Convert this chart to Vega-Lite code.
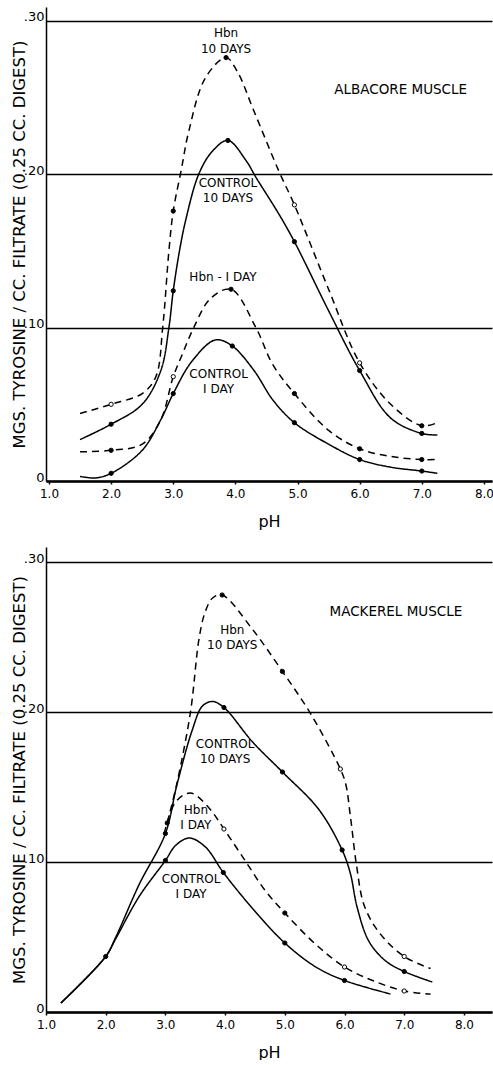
{
  "$schema": "https://vega.github.io/schema/vega-lite/v6.json",
  "padding": {"left": 10, "top": 7, "right": 0, "bottom": 0},
  "background": "white",
  "config": {
    "view": {"stroke": null},
    "font": "DejaVu Sans",
    "axis": {"labelFont": "DejaVu Sans", "titleFont": "DejaVu Sans", "labelColor": "black", "titleColor": "black", "titleFontWeight": "normal"}
  },
  "spacing": 66,
  "bounds": "flush",
  "datasets": {
    "albacore": [
      {"s": "Hbn 10 days", "ph": 1.5, "v": 0.044, "d": "dashed", "m": "none"},
      {"s": "Hbn 10 days", "ph": 2.0, "v": 0.050, "d": "dashed", "m": "open"},
      {"s": "Hbn 10 days", "ph": 2.5, "v": 0.057, "d": "dashed", "m": "none"},
      {"s": "Hbn 10 days", "ph": 2.72, "v": 0.068, "d": "dashed", "m": "none"},
      {"s": "Hbn 10 days", "ph": 2.83, "v": 0.100, "d": "dashed", "m": "none"},
      {"s": "Hbn 10 days", "ph": 2.93, "v": 0.150, "d": "dashed", "m": "none"},
      {"s": "Hbn 10 days", "ph": 3.0, "v": 0.176, "d": "dashed", "m": "filled"},
      {"s": "Hbn 10 days", "ph": 3.13, "v": 0.203, "d": "dashed", "m": "none"},
      {"s": "Hbn 10 days", "ph": 3.25, "v": 0.228, "d": "dashed", "m": "none"},
      {"s": "Hbn 10 days", "ph": 3.52, "v": 0.263, "d": "dashed", "m": "none"},
      {"s": "Hbn 10 days", "ph": 3.85, "v": 0.276, "d": "dashed", "m": "filled"},
      {"s": "Hbn 10 days", "ph": 4.03, "v": 0.267, "d": "dashed", "m": "none"},
      {"s": "Hbn 10 days", "ph": 4.3, "v": 0.241, "d": "dashed", "m": "none"},
      {"s": "Hbn 10 days", "ph": 4.7, "v": 0.202, "d": "dashed", "m": "none"},
      {"s": "Hbn 10 days", "ph": 4.95, "v": 0.180, "d": "dashed", "m": "open"},
      {"s": "Hbn 10 days", "ph": 5.5, "v": 0.125, "d": "dashed", "m": "none"},
      {"s": "Hbn 10 days", "ph": 6.0, "v": 0.077, "d": "dashed", "m": "open"},
      {"s": "Hbn 10 days", "ph": 6.5, "v": 0.050, "d": "dashed", "m": "none"},
      {"s": "Hbn 10 days", "ph": 7.0, "v": 0.036, "d": "dashed", "m": "filled"},
      {"s": "Hbn 10 days", "ph": 7.25, "v": 0.038, "d": "dashed", "m": "none"},

      {"s": "Control 10 days", "ph": 1.5, "v": 0.027, "d": "solid", "m": "none"},
      {"s": "Control 10 days", "ph": 2.0, "v": 0.037, "d": "solid", "m": "filled"},
      {"s": "Control 10 days", "ph": 2.5, "v": 0.050, "d": "solid", "m": "none"},
      {"s": "Control 10 days", "ph": 2.8, "v": 0.072, "d": "solid", "m": "none"},
      {"s": "Control 10 days", "ph": 2.93, "v": 0.100, "d": "solid", "m": "none"},
      {"s": "Control 10 days", "ph": 3.0, "v": 0.124, "d": "solid", "m": "filled"},
      {"s": "Control 10 days", "ph": 3.1, "v": 0.150, "d": "solid", "m": "none"},
      {"s": "Control 10 days", "ph": 3.2, "v": 0.170, "d": "solid", "m": "none"},
      {"s": "Control 10 days", "ph": 3.41, "v": 0.200, "d": "solid", "m": "none"},
      {"s": "Control 10 days", "ph": 3.63, "v": 0.215, "d": "solid", "m": "none"},
      {"s": "Control 10 days", "ph": 3.88, "v": 0.222, "d": "solid", "m": "filled"},
      {"s": "Control 10 days", "ph": 4.17, "v": 0.209, "d": "solid", "m": "none"},
      {"s": "Control 10 days", "ph": 4.33, "v": 0.198, "d": "solid", "m": "none"},
      {"s": "Control 10 days", "ph": 4.7, "v": 0.174, "d": "solid", "m": "none"},
      {"s": "Control 10 days", "ph": 4.95, "v": 0.156, "d": "solid", "m": "filled"},
      {"s": "Control 10 days", "ph": 5.5, "v": 0.111, "d": "solid", "m": "none"},
      {"s": "Control 10 days", "ph": 6.0, "v": 0.072, "d": "solid", "m": "filled"},
      {"s": "Control 10 days", "ph": 6.5, "v": 0.041, "d": "solid", "m": "none"},
      {"s": "Control 10 days", "ph": 7.0, "v": 0.031, "d": "solid", "m": "filled"},
      {"s": "Control 10 days", "ph": 7.25, "v": 0.030, "d": "solid", "m": "none"},

      {"s": "Hbn 1 day", "ph": 1.5, "v": 0.019, "d": "dashed", "m": "none"},
      {"s": "Hbn 1 day", "ph": 2.0, "v": 0.020, "d": "dashed", "m": "filled"},
      {"s": "Hbn 1 day", "ph": 2.5, "v": 0.024, "d": "dashed", "m": "none"},
      {"s": "Hbn 1 day", "ph": 2.8, "v": 0.040, "d": "dashed", "m": "none"},
      {"s": "Hbn 1 day", "ph": 3.0, "v": 0.068, "d": "dashed", "m": "open"},
      {"s": "Hbn 1 day", "ph": 3.15, "v": 0.083, "d": "dashed", "m": "none"},
      {"s": "Hbn 1 day", "ph": 3.33, "v": 0.100, "d": "dashed", "m": "none"},
      {"s": "Hbn 1 day", "ph": 3.6, "v": 0.119, "d": "dashed", "m": "none"},
      {"s": "Hbn 1 day", "ph": 3.93, "v": 0.125, "d": "dashed", "m": "filled"},
      {"s": "Hbn 1 day", "ph": 4.33, "v": 0.100, "d": "dashed", "m": "none"},
      {"s": "Hbn 1 day", "ph": 4.6, "v": 0.076, "d": "dashed", "m": "none"},
      {"s": "Hbn 1 day", "ph": 4.95, "v": 0.057, "d": "dashed", "m": "filled"},
      {"s": "Hbn 1 day", "ph": 5.5, "v": 0.033, "d": "dashed", "m": "none"},
      {"s": "Hbn 1 day", "ph": 6.0, "v": 0.021, "d": "dashed", "m": "filled"},
      {"s": "Hbn 1 day", "ph": 6.5, "v": 0.016, "d": "dashed", "m": "none"},
      {"s": "Hbn 1 day", "ph": 7.0, "v": 0.014, "d": "dashed", "m": "filled"},
      {"s": "Hbn 1 day", "ph": 7.25, "v": 0.014, "d": "dashed", "m": "none"},

      {"s": "Control 1 day", "ph": 1.5, "v": 0.003, "d": "solid", "m": "none"},
      {"s": "Control 1 day", "ph": 1.75, "v": 0.002, "d": "solid", "m": "none"},
      {"s": "Control 1 day", "ph": 2.0, "v": 0.005, "d": "solid", "m": "filled"},
      {"s": "Control 1 day", "ph": 2.5, "v": 0.020, "d": "solid", "m": "none"},
      {"s": "Control 1 day", "ph": 2.8, "v": 0.040, "d": "solid", "m": "none"},
      {"s": "Control 1 day", "ph": 3.0, "v": 0.057, "d": "solid", "m": "filled"},
      {"s": "Control 1 day", "ph": 3.3, "v": 0.078, "d": "solid", "m": "none"},
      {"s": "Control 1 day", "ph": 3.68, "v": 0.092, "d": "solid", "m": "none"},
      {"s": "Control 1 day", "ph": 3.95, "v": 0.088, "d": "solid", "m": "filled"},
      {"s": "Control 1 day", "ph": 4.3, "v": 0.072, "d": "solid", "m": "none"},
      {"s": "Control 1 day", "ph": 4.6, "v": 0.053, "d": "solid", "m": "none"},
      {"s": "Control 1 day", "ph": 4.95, "v": 0.038, "d": "solid", "m": "filled"},
      {"s": "Control 1 day", "ph": 5.5, "v": 0.024, "d": "solid", "m": "none"},
      {"s": "Control 1 day", "ph": 6.0, "v": 0.014, "d": "solid", "m": "filled"},
      {"s": "Control 1 day", "ph": 6.5, "v": 0.009, "d": "solid", "m": "none"},
      {"s": "Control 1 day", "ph": 7.0, "v": 0.0065, "d": "solid", "m": "filled"},
      {"s": "Control 1 day", "ph": 7.25, "v": 0.005, "d": "solid", "m": "none"}
    ],
    "mackerel": [
      {"s": "Control 1 day", "ph": 1.25, "v": 0.006, "d": "solid", "m": "none"},
      {"s": "Control 1 day", "ph": 2.0, "v": 0.037, "d": "solid", "m": "filled"},
      {"s": "Control 1 day", "ph": 2.17, "v": 0.049, "d": "solid", "m": "none"},
      {"s": "Control 1 day", "ph": 2.56, "v": 0.077, "d": "solid", "m": "none"},
      {"s": "Control 1 day", "ph": 3.0, "v": 0.101, "d": "solid", "m": "filled"},
      {"s": "Control 1 day", "ph": 3.17, "v": 0.111, "d": "solid", "m": "none"},
      {"s": "Control 1 day", "ph": 3.4, "v": 0.116, "d": "solid", "m": "none"},
      {"s": "Control 1 day", "ph": 3.67, "v": 0.110, "d": "solid", "m": "none"},
      {"s": "Control 1 day", "ph": 3.97, "v": 0.093, "d": "solid", "m": "filled"},
      {"s": "Control 1 day", "ph": 4.46, "v": 0.069, "d": "solid", "m": "none"},
      {"s": "Control 1 day", "ph": 5.0, "v": 0.046, "d": "solid", "m": "filled"},
      {"s": "Control 1 day", "ph": 5.52, "v": 0.030, "d": "solid", "m": "none"},
      {"s": "Control 1 day", "ph": 6.0, "v": 0.021, "d": "solid", "m": "filled"},
      {"s": "Control 1 day", "ph": 6.77, "v": 0.012, "d": "solid", "m": "none"},

      {"s": "Control 10 days", "ph": 1.25, "v": 0.006, "d": "solid", "m": "none"},
      {"s": "Control 10 days", "ph": 2.0, "v": 0.037, "d": "solid", "m": "none"},
      {"s": "Control 10 days", "ph": 2.17, "v": 0.050, "d": "solid", "m": "none"},
      {"s": "Control 10 days", "ph": 2.56, "v": 0.085, "d": "solid", "m": "none"},
      {"s": "Control 10 days", "ph": 3.0, "v": 0.119, "d": "solid", "m": "filled"},
      {"s": "Control 10 days", "ph": 3.19, "v": 0.151, "d": "solid", "m": "none"},
      {"s": "Control 10 days", "ph": 3.45, "v": 0.188, "d": "solid", "m": "none"},
      {"s": "Control 10 days", "ph": 3.62, "v": 0.204, "d": "solid", "m": "none"},
      {"s": "Control 10 days", "ph": 3.79, "v": 0.207, "d": "solid", "m": "none"},
      {"s": "Control 10 days", "ph": 3.98, "v": 0.203, "d": "solid", "m": "filled"},
      {"s": "Control 10 days", "ph": 4.46, "v": 0.180, "d": "solid", "m": "none"},
      {"s": "Control 10 days", "ph": 4.96, "v": 0.160, "d": "solid", "m": "filled"},
      {"s": "Control 10 days", "ph": 5.57, "v": 0.135, "d": "solid", "m": "none"},
      {"s": "Control 10 days", "ph": 5.96, "v": 0.108, "d": "solid", "m": "filled"},
      {"s": "Control 10 days", "ph": 6.1, "v": 0.092, "d": "solid", "m": "none"},
      {"s": "Control 10 days", "ph": 6.21, "v": 0.070, "d": "solid", "m": "none"},
      {"s": "Control 10 days", "ph": 6.41, "v": 0.047, "d": "solid", "m": "none"},
      {"s": "Control 10 days", "ph": 6.69, "v": 0.034, "d": "solid", "m": "none"},
      {"s": "Control 10 days", "ph": 7.0, "v": 0.027, "d": "solid", "m": "filled"},
      {"s": "Control 10 days", "ph": 7.47, "v": 0.020, "d": "solid", "m": "none"},

      {"s": "Hbn 10 days", "ph": 3.03, "v": 0.126, "d": "dashed", "m": "filled"},
      {"s": "Hbn 10 days", "ph": 3.19, "v": 0.152, "d": "dashed", "m": "none"},
      {"s": "Hbn 10 days", "ph": 3.42, "v": 0.200, "d": "dashed", "m": "none"},
      {"s": "Hbn 10 days", "ph": 3.56, "v": 0.248, "d": "dashed", "m": "none"},
      {"s": "Hbn 10 days", "ph": 3.66, "v": 0.266, "d": "dashed", "m": "none"},
      {"s": "Hbn 10 days", "ph": 3.79, "v": 0.276, "d": "dashed", "m": "none"},
      {"s": "Hbn 10 days", "ph": 3.95, "v": 0.278, "d": "dashed", "m": "filled"},
      {"s": "Hbn 10 days", "ph": 4.46, "v": 0.255, "d": "dashed", "m": "none"},
      {"s": "Hbn 10 days", "ph": 4.96, "v": 0.227, "d": "dashed", "m": "filled"},
      {"s": "Hbn 10 days", "ph": 5.43, "v": 0.199, "d": "dashed", "m": "none"},
      {"s": "Hbn 10 days", "ph": 5.93, "v": 0.162, "d": "dashed", "m": "open"},
      {"s": "Hbn 10 days", "ph": 6.02, "v": 0.152, "d": "dashed", "m": "none"},
      {"s": "Hbn 10 days", "ph": 6.1, "v": 0.130, "d": "dashed", "m": "none"},
      {"s": "Hbn 10 days", "ph": 6.2, "v": 0.098, "d": "dashed", "m": "none"},
      {"s": "Hbn 10 days", "ph": 6.33, "v": 0.071, "d": "dashed", "m": "none"},
      {"s": "Hbn 10 days", "ph": 6.58, "v": 0.053, "d": "dashed", "m": "none"},
      {"s": "Hbn 10 days", "ph": 7.0, "v": 0.037, "d": "dashed", "m": "open"},
      {"s": "Hbn 10 days", "ph": 7.44, "v": 0.029, "d": "dashed", "m": "none"},

      {"s": "Hbn 1 day", "ph": 2.98, "v": 0.119, "d": "dashed", "m": "none"},
      {"s": "Hbn 1 day", "ph": 3.17, "v": 0.140, "d": "dashed", "m": "none"},
      {"s": "Hbn 1 day", "ph": 3.42, "v": 0.146, "d": "dashed", "m": "none"},
      {"s": "Hbn 1 day", "ph": 3.73, "v": 0.136, "d": "dashed", "m": "none"},
      {"s": "Hbn 1 day", "ph": 3.98, "v": 0.122, "d": "dashed", "m": "open"},
      {"s": "Hbn 1 day", "ph": 4.35, "v": 0.100, "d": "dashed", "m": "none"},
      {"s": "Hbn 1 day", "ph": 4.67, "v": 0.081, "d": "dashed", "m": "none"},
      {"s": "Hbn 1 day", "ph": 5.0, "v": 0.066, "d": "dashed", "m": "filled"},
      {"s": "Hbn 1 day", "ph": 5.52, "v": 0.045, "d": "dashed", "m": "none"},
      {"s": "Hbn 1 day", "ph": 6.0, "v": 0.030, "d": "dashed", "m": "open"},
      {"s": "Hbn 1 day", "ph": 6.47, "v": 0.021, "d": "dashed", "m": "none"},
      {"s": "Hbn 1 day", "ph": 7.0, "v": 0.014, "d": "dashed", "m": "open"},
      {"s": "Hbn 1 day", "ph": 7.44, "v": 0.012, "d": "dashed", "m": "none"}
    ],
    "labels_a": [
      {"ph": 3.85, "v": 0.292, "t": "Hbn|10 DAYS", "kind": "curve"},
      {"ph": 6.66, "v": 0.255, "t": "ALBACORE  MUSCLE", "kind": "title"},
      {"ph": 3.88, "v": 0.1945, "t": "CONTROL|10 DAYS", "kind": "curve"},
      {"ph": 3.80, "v": 0.133, "t": "Hbn - I DAY", "kind": "curve"},
      {"ph": 3.73, "v": 0.070, "t": "CONTROL|I DAY", "kind": "curve"}
    ],
    "labels_m": [
      {"ph": 6.86, "v": 0.267, "t": "MACKEREL  MUSCLE", "kind": "title"},
      {"ph": 4.12, "v": 0.255, "t": "Hbn|10 DAYS", "kind": "curve"},
      {"ph": 4.0, "v": 0.179, "t": "CONTROL|10 DAYS", "kind": "curve"},
      {"ph": 3.51, "v": 0.135, "t": "Hbn|I DAY", "kind": "curve"},
      {"ph": 3.43, "v": 0.089, "t": "CONTROL|I DAY", "kind": "curve"}
    ]
  },
  "vconcat": [
    {
      "width": 446,
      "height": 474,
      "encoding": {
        "x": {"field": "ph", "type": "quantitative",
          "scale": {"domain": [0.952, 8.13], "nice": false, "zero": false},
          "axis": {"values": [1, 2, 3, 4, 5, 6, 7, 8], "format": ".1f", "title": "pH", "grid": false,
            "domainColor": "black", "domainWidth": 2.5, "tickColor": "black", "tickSize": 3, "tickWidth": 1.5,
            "labelFontSize": 12, "labelPadding": 4, "titleFontSize": 16, "titlePadding": 14, "labelFlush": false}},
        "y": {"field": "v", "type": "quantitative",
          "scale": {"domain": [0, 0.309], "nice": false},
          "axis": {"values": [0, 0.1, 0.2, 0.3], "labelExpr": "datum.value === 0 ? '0' : slice(format(datum.value, '.2f'), 1)",
            "title": "MGS.  TYROSINE / CC.  FILTRATE    (0.25  CC.  DIGEST)", "titleFontSize": 16.5, "titleX": -27, "titleBaseline": "middle",
            "grid": true, "gridColor": "black", "gridWidth": 1.3, "gridOpacity": 1,
            "domainColor": "black", "domainWidth": 1.5, "ticks": false, "labelPadding": 2, "labelFontSize": 13, "labelBaseline": "alphabetic"}}
      },
      "layer": [
        {
          "data": {"name": "albacore"},
          "mark": {"type": "line", "interpolate": "catmull-rom", "color": "black", "strokeWidth": 1.5},
          "encoding": {
            "detail": {"field": "s"},
            "strokeDash": {"field": "d", "type": "nominal", "scale": {"domain": ["solid", "dashed"], "range": [[1, 0], [7, 5]]}, "legend": null}
          }
        },
        {
          "data": {"name": "albacore"},
          "transform": [{"filter": "datum.m !== 'none'"}],
          "mark": {"type": "point", "shape": "circle", "filled": true, "size": 18, "stroke": "black", "strokeWidth": 1, "opacity": 1},
          "encoding": {
            "fill": {"field": "m", "type": "nominal", "scale": {"domain": ["filled", "open"], "range": ["black", "white"]}, "legend": null}
          }
        },
        {
          "data": {"name": "labels_a"},
          "transform": [{"filter": "datum.kind === 'curve'"}],
          "mark": {"type": "text", "lineBreak": "|", "fontSize": 12, "lineHeight": 15.5, "color": "black", "align": "center", "baseline": "middle"},
          "encoding": {"text": {"field": "t"}}
        },
        {
          "data": {"name": "labels_a"},
          "transform": [{"filter": "datum.kind === 'title'"}],
          "mark": {"type": "text", "fontSize": 13.5, "color": "black", "align": "center", "baseline": "middle"},
          "encoding": {"text": {"field": "t"}}
        }
      ]
    },
    {
      "width": 446,
      "height": 465,
      "encoding": {
        "x": {"field": "ph", "type": "quantitative",
          "scale": {"domain": [1, 8.47], "nice": false, "zero": false},
          "axis": {"values": [1, 2, 3, 4, 5, 6, 7, 8], "format": ".1f", "title": "pH", "grid": false,
            "domainColor": "black", "domainWidth": 2.5, "tickColor": "black", "tickSize": 3, "tickWidth": 1.5,
            "labelFontSize": 12, "labelPadding": 4, "titleFontSize": 16, "titlePadding": 14, "labelFlush": false}},
        "y": {"field": "v", "type": "quantitative",
          "scale": {"domain": [0, 0.31], "nice": false},
          "axis": {"values": [0, 0.1, 0.2, 0.3], "labelExpr": "datum.value === 0 ? '0' : slice(format(datum.value, '.2f'), 1)",
            "title": "MGS.  TYROSINE / CC.  FILTRATE    (0.25  CC.  DIGEST)", "titleFontSize": 16.5, "titleX": -27, "titleBaseline": "middle",
            "grid": true, "gridColor": "black", "gridWidth": 1.3, "gridOpacity": 1,
            "domainColor": "black", "domainWidth": 1.5, "ticks": false, "labelPadding": 2, "labelFontSize": 13, "labelBaseline": "alphabetic"}}
      },
      "layer": [
        {
          "data": {"name": "mackerel"},
          "mark": {"type": "line", "interpolate": "catmull-rom", "color": "black", "strokeWidth": 1.5},
          "encoding": {
            "detail": {"field": "s"},
            "strokeDash": {"field": "d", "type": "nominal", "scale": {"domain": ["solid", "dashed"], "range": [[1, 0], [6, 4]]}, "legend": null}
          }
        },
        {
          "data": {"name": "mackerel"},
          "transform": [{"filter": "datum.m !== 'none'"}],
          "mark": {"type": "point", "shape": "circle", "filled": true, "size": 18, "stroke": "black", "strokeWidth": 1, "opacity": 1},
          "encoding": {
            "fill": {"field": "m", "type": "nominal", "scale": {"domain": ["filled", "open"], "range": ["black", "white"]}, "legend": null}
          }
        },
        {
          "data": {"name": "labels_m"},
          "transform": [{"filter": "datum.kind === 'curve'"}],
          "mark": {"type": "text", "lineBreak": "|", "fontSize": 12, "lineHeight": 15.5, "color": "black", "align": "center", "baseline": "middle"},
          "encoding": {"text": {"field": "t"}}
        },
        {
          "data": {"name": "labels_m"},
          "transform": [{"filter": "datum.kind === 'title'"}],
          "mark": {"type": "text", "fontSize": 13.5, "color": "black", "align": "center", "baseline": "middle"},
          "encoding": {"text": {"field": "t"}}
        }
      ]
    }
  ]
}
